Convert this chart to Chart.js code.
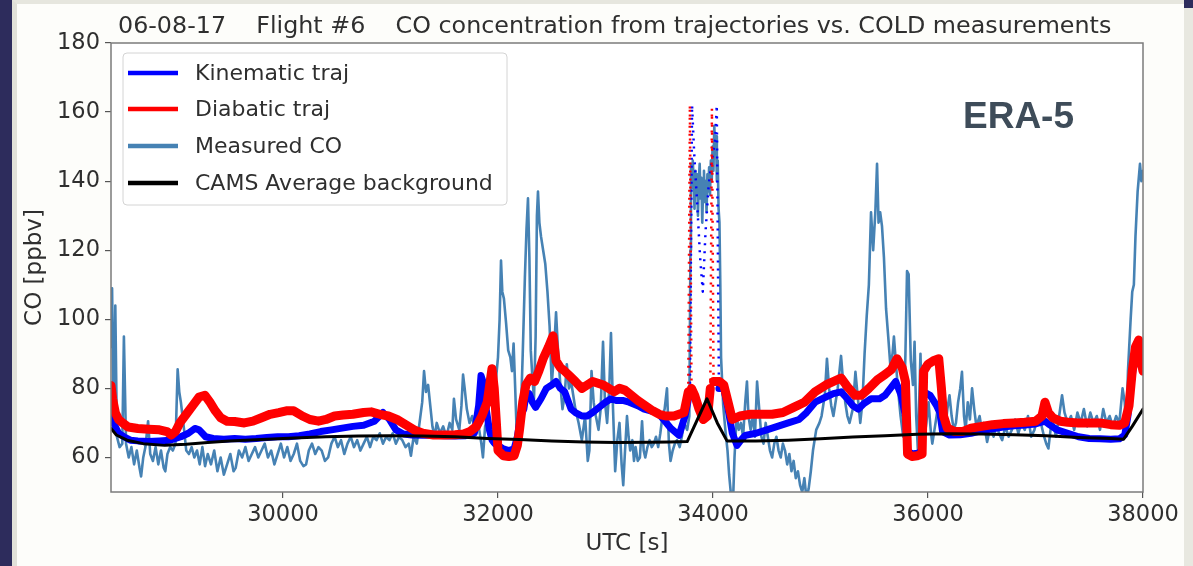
<!DOCTYPE html>
<html>
<head>
<meta charset="utf-8">
<title>CO concentration - Flight #6</title>
<script src="https://cdn.jsdelivr.net/npm/chart.js@4.4.0/dist/chart.umd.min.js"></script>
<style>
  html, body { margin: 0; padding: 0; }
  body { width: 1193px; height: 566px; background: #2d2c5c; position: relative; overflow: hidden; }
  .slide { position: absolute; left: 12px; top: 0; width: 1167px; height: 562px; background: #fdfdfa;
           border-left: 5px solid #e1e1d9; border-top: 4px solid #e6e6de; }
  .edge { position: absolute; left: 1184px; top: 8px; width: 9px; height: 558px; background: #e8e8e0; }
  #coChart { position: absolute; left: 0; top: 0; }
</style>
</head>
<body>
<div class="slide"></div>
<div class="edge"></div>
<canvas id="coChart" width="1193" height="566"></canvas>
<script>
// axis ticks and text
var xTicks = [30000, 32000, 34000, 36000, 38000];
var yTicks = [60, 80, 100, 120, 140, 160, 180];
var chartTitle = "06-08-17    Flight #6    CO concentration from trajectories vs. COLD measurements";
var modelName = "ERA-5";
var seriesNames = ["Kinematic traj", "Diabatic traj", "Measured CO", "CAMS Average background"];

// [UTC s, CO ppbv]
var kinematicCO = [
  [28400,70],[28420,74],[28440,69],[28470,67],[28520,66],[28580,65],[28650,64.8],[28750,64.6],[28850,64.8],[28950,65],
  [29050,66],[29120,67],[29180,68.4],[29220,68],[29280,66],[29350,65.5],[29450,65.3],[29550,65.5],[29650,65.3],[29750,65.5],
  [29850,65.8],[29950,66],[30050,66],[30150,66.3],[30250,66.8],[30350,67.5],[30450,68],[30550,68.5],[30650,69],[30750,69.3],
  [30850,70.5],[30930,73],[30990,71],[31050,68],[31120,66.8],[31200,66.5],[31300,66.4],[31400,66.4],[31500,66.3],[31600,66.2],
  [31700,66.3],[31780,67],[31820,75],[31842,83.7],[31860,82],[31890,74],[31920,68],[31945,65],[31970,64],[32000,63.5],
  [32050,62.5],[32100,62],[32150,62.5],[32180,66],[32210,72],[32240,74],[32260,78],[32290,78.5],[32320,76],[32350,74.5],
  [32400,77],[32450,80],[32500,81],[32540,82],[32580,80],[32620,79],[32680,74],[32720,73],[32780,72],[32830,72],
  [32880,73],[32940,74.5],[33000,76],[33050,77],[33100,76.5],[33160,76.5],[33220,76],[33300,75],[33360,74],[33420,73.5],
  [33485,73],[33540,71],[33609,68.4],[33684,66.4],[33740,72],[33785,79],[33805,162],[33825,148],[33850,135],[33880,118],
  [33905,108],[33930,125],[33960,139],[33990,146],[34020,152],[34035,162],[34055,80],[34100,80],[34140,74],[34180,67],
  [34223,63.5],[34260,65],[34300,66.4],[34400,67],[34500,68],[34600,69],[34700,70],[34800,71],[34870,73],[34950,76],
  [35050,77.5],[35120,78.5],[35191,79],[35250,77],[35300,75],[35350,74],[35400,75.5],[35470,77],[35550,77],[35600,78],
  [35650,80],[35700,82],[35750,78],[35790,72],[35810,62],[35850,61],[35900,61.2],[35945,62],[35960,79],[36020,78],
  [36080,75],[36110,73],[36135,67.5],[36200,66.5],[36300,66.6],[36400,67],[36500,67.8],[36600,68.3],[36700,68.8],[36800,69.2],
  [36900,69.4],[37000,69.7],[37090,70.5],[37130,69.5],[37200,68],[37300,67],[37400,66],[37500,65.5],[37600,65.4],[37700,65.3],
  [37780,65.4],[37830,66.5],[37860,72],[37885,80],[37910,86],[37940,88],[37970,90],[38000,89]
];

var diabaticCO = [
  [28400,80.8],[28415,77],[28440,73],[28470,71],[28510,70],[28560,68.8],[28650,68.4],[28750,68.2],[28850,68],[28920,67.5],
  [28960,66.5],[29000,67.5],[29040,70],[29100,72.5],[29160,75],[29220,77.5],[29274,78],[29320,76],[29370,73.5],[29420,71.5],
  [29480,70.5],[29550,70.4],[29640,70],[29720,70.5],[29800,71.5],[29880,72.5],[29960,73],[30030,73.5],[30100,73.5],[30180,72],
  [30250,71],[30330,70.5],[30400,71],[30480,72],[30560,72.3],[30650,72.5],[30750,73],[30820,73.2],[30900,72.5],[30980,72],
  [31060,71],[31140,69.5],[31220,68],[31300,67],[31400,66.5],[31500,66.5],[31600,66.6],[31680,66.8],[31740,67.5],[31800,69],
  [31850,72],[31900,76],[31944,85.7],[31965,80],[31985,70],[32000,62],[32050,60.5],[32100,60.3],[32150,60.5],[32180,63.5],
  [32200,68],[32230,76],[32260,81],[32300,83],[32340,82],[32380,85],[32420,88.6],[32470,92],[32512,95.2],[32540,88],
  [32580,86],[32620,85],[32670,83.5],[32720,82],[32780,80],[32830,81],[32880,82],[32930,81.5],[32980,81],[33030,80],
  [33080,79],[33130,80],[33180,79.5],[33240,78],[33300,76.5],[33370,75],[33440,73.5],[33500,72.5],[33560,72],[33637,72],
  [33730,73],[33770,79],[33785,162],[33800,80],[33830,78],[33870,74],[33910,71],[33950,72],[33975,80],[33990,161],
  [34005,82],[34060,82],[34100,81],[34140,76],[34180,71],[34250,72],[34350,72.5],[34450,72.5],[34550,72.5],[34650,73],
  [34750,74.5],[34850,76],[34950,79],[35050,81],[35120,82],[35191,83],[35250,80.5],[35320,78],[35380,78],[35450,80],
  [35530,82.5],[35600,84],[35660,85.5],[35712,88.6],[35760,86],[35790,82],[35810,61],[35850,60.3],[35900,60.5],[35945,61],
  [35960,85],[36000,87],[36050,88],[36100,88.6],[36125,80],[36145,72],[36180,68.5],[36250,67.5],[36320,67.5],[36400,68.5],
  [36500,69],[36600,69.5],[36700,69.8],[36800,70],[36900,70.2],[37000,70.5],[37060,72],[37088,76],[37120,73],[37160,71.5],
  [37230,70.5],[37300,70.2],[37400,70],[37500,70],[37600,70],[37700,69.5],[37780,69.3],[37830,70],[37870,75],[37900,85],
  [37930,92],[37960,94],[37980,88],[38000,85]
];

var measuredCO = [
  [28400,92],[28410,109],[28425,68],[28440,104],[28455,66],[28480,63],[28505,64],[28520,95],[28540,64],[28565,60],
  [28590,63],[28615,58],[28640,62],[28665,57],[28680,54.5],[28700,60],[28720,63],[28745,70.5],[28765,61],[28790,59],
  [28815,63],[28840,58],[28865,62],[28890,57],[28905,56],[28925,61],[28950,63],[28975,62],[29000,64],[29020,85.5],
  [29035,79],[29050,76],[29065,72],[29080,68],[29100,62],[29125,61],[29150,63],[29175,60],[29200,62],[29225,58],
  [29250,63],[29275,57.5],[29300,61],[29330,58],[29360,62],[29390,56],[29420,60],[29450,55],[29480,58],[29510,61],
  [29540,56],[29560,57],[29590,62],[29620,60],[29650,63],[29680,59],[29710,61],[29740,63],[29770,60],[29800,62],
  [29830,64],[29860,60],[29890,62],[29920,58],[29950,61],[29980,64],[30010,60],[30040,63],[30070,59],[30100,61],
  [30130,64],[30160,59],[30190,57.5],[30215,58],[30240,62],[30270,64],[30300,61],[30330,63],[30360,62],[30390,59],
  [30420,60],[30450,64],[30480,66],[30510,63],[30540,65],[30570,61],[30600,64],[30630,66],[30660,63],[30690,65],
  [30720,62],[30750,64],[30780,66],[30810,63],[30840,66],[30870,65],[30900,67],[30930,64],[30960,66],[30990,65],
  [31020,67],[31050,64],[31080,66],[31110,65],[31140,63],[31170,64],[31190,60.5],[31215,66],[31245,64],[31270,70],
  [31295,76],[31312,85],[31330,79],[31350,81],[31370,75],[31390,69],[31410,66],[31430,70],[31460,67],[31490,69],
  [31520,66],[31550,70],[31575,68],[31590,77],[31610,71],[31640,68],[31660,75],[31675,84],[31690,80],[31710,74],
  [31735,70],[31760,72],[31790,67],[31820,69],[31845,64],[31860,60],[31880,69],[31900,71],[31920,66],[31945,64],
  [31965,72],[31985,84],[32000,89],[32015,100],[32028,117],[32040,108],[32055,106],[32075,99],[32095,91],[32115,89],
  [32130,85],[32145,93],[32160,80],[32175,66],[32190,62],[32210,70],[32230,90],[32250,112],[32265,126],[32279,135],
  [32292,118],[32305,91],[32320,83],[32335,77],[32350,95],[32362,130],[32372,137],[32385,128],[32400,124],[32420,120],
  [32440,116],[32460,108],[32480,98],[32500,81],[32520,90],[32540,102],[32560,90],[32580,81],[32600,74],[32620,78],
  [32640,87],[32660,80],[32680,82],[32700,78],[32720,74],[32750,70],[32780,65],[32810,72],[32835,59],[32850,62],
  [32870,85],[32890,76],[32910,72],[32935,68],[32955,74],[32977,93.5],[32995,76],[33015,70],[33035,80],[33051,96],
  [33070,74],[33090,56],[33110,65],[33130,70],[33150,58],[33165,52],[33180,61],[33200,72],[33215,66],[33230,62],
  [33250,65],[33265,59],[33280,63],[33300,59],[33320,60],[33340,70.5],[33355,62],[33370,60],[33390,63],[33410,65],
  [33430,63],[33450,64],[33470,66],[33490,63],[33510,67],[33530,72],[33550,74],[33572,80],[33590,64],[33605,59],
  [33625,62],[33645,64],[33665,65],[33690,63],[33710,66],[33730,70],[33760,68],[33780,72],[33790,120],[33795,145],
  [33805,138],[33812,146],[33820,140],[33828,132],[33836,143],[33845,136],[33852,142],[33860,130],[33868,140],[33876,145],
  [33884,135],[33892,141],[33900,128],[33908,138],[33916,143],[33924,134],[33932,140],[33940,131],[33948,142],[33956,137],
  [33964,144],[33972,136],[33980,146],[33988,140],[33996,150],[34004,143],[34012,156],[34020,148],[34028,153],[34036,140],
  [34044,146],[34052,132],[34060,128],[34068,110],[34075,89],[34095,75],[34115,68],[34135,62],[34150,55],
  [34165,50],[34186,47],[34200,60],[34220,72],[34240,68],[34260,70],[34280,66],[34300,76],[34316,82],[34330,72],
  [34350,68],[34370,72],[34390,66],[34410,82],[34430,74],[34450,66],[34470,64],[34490,70],[34510,66],[34530,62],
  [34550,60],[34570,64],[34590,66],[34610,62],[34630,60],[34650,64],[34670,62],[34690,58],[34710,61],[34730,56],
  [34750,59],[34770,54],[34790,56],[34810,52],[34830,50],[34850,54],[34870,48],[34890,51],[34910,56],[34930,62],
  [34960,68],[34990,70],[35010,72],[35040,78],[35060,88.6],[35080,80],[35100,75],[35120,72],[35140,76],[35160,80],
  [35191,89.4],[35210,82],[35230,76],[35250,72],[35270,70],[35300,74],[35325,84.8],[35345,78],[35370,70],[35390,76],
  [35410,90],[35430,101],[35450,110],[35470,131],[35490,120],[35510,131],[35526,145],[35540,128],[35555,131],[35572,127],
  [35590,118],[35610,103],[35630,95],[35650,86.5],[35670,90],[35683,95],[35700,88],[35720,80],[35745,72],[35770,66],
  [35790,90],[35805,114],[35820,113],[35840,88],[35860,81],[35875,93.5],[35890,72],[35905,62.6],[35920,78],[35930,90],
  [35945,70],[35960,64],[35985,70],[36005,76],[36025,68],[36040,64],[36060,68],[36080,72],[36100,76],[36120,80],
  [36140,72],[36160,68],[36180,74],[36200,78],[36220,72],[36240,68],[36260,70],[36280,76],[36300,80],[36316,84.8],
  [36335,72],[36350,68],[36370,76],[36390,71],[36410,80],[36430,74],[36450,69],[36480,72],[36500,68],[36520,70],
  [36550,64.5],[36580,69],[36610,66],[36640,70],[36660,67],[36690,65],[36720,69],[36750,66],[36780,68],[36810,71],
  [36840,67],[36870,70],[36900,68],[36930,72],[36960,66],[36990,68],[37020,72],[37050,70],[37080,66],[37100,64],
  [37120,62.6],[37140,68],[37165,70],[37190,66],[37220,72],[37247,78],[37270,73],[37300,70],[37330,72],[37360,68],
  [37390,73],[37420,70],[37450,74],[37480,69],[37510,73],[37540,70],[37570,72],[37600,68],[37630,74],[37660,70],
  [37690,72],[37720,69],[37750,72],[37780,70],[37810,80],[37830,76],[37845,67],[37860,85],[37870,91],[37885,100],
  [37900,108],[37915,110],[37930,124],[37950,137],[37972,145],[37985,140],[38000,143]
];

var camsCO = [
  [28400,68.4],[28450,66.5],[28550,65],[28700,64],[28900,63.5],[29100,63.8],[29300,64.3],[29500,64.8],[29800,65.2],[30100,65.6],
  [30400,66],[30700,66.2],[31000,66.3],[31300,66.2],[31600,66],[31900,65.5],[32200,65.2],[32500,64.8],[32800,64.5],[33100,64.3],
  [33400,64.4],[33600,64.5],[33760,64.6],[33944,77],[34040,70],[34130,64.8],[34400,64.8],[34700,65],[35000,65.4],[35300,65.9],
  [35600,66.3],[35900,66.7],[36200,66.9],[36500,66.8],[36800,66.6],[37100,66.3],[37400,65.8],[37700,65.5],[37820,65.3],[37900,69],
  [38000,74]
];

function points(rows) {
  return rows.map(function (r) { return { x: r[0], y: r[1] }; });
}

// trajectory values far above the band are only a few scattered points
function sparse(ctx) {
  return ctx.p0.parsed.y > 100 || ctx.p1.parsed.y > 100;
}
var sparseSegment = {
  borderWidth: function (ctx) { return sparse(ctx) ? 2.5 : undefined; },
  borderDash: function (ctx) { return sparse(ctx) ? [2, 6] : undefined; },
  borderCapStyle: function (ctx) { return sparse(ctx) ? "butt" : undefined; }
};

var textColor = "#2f2f2f";

// axes box, legend and text inside the plot
var framePlugin = {
  id: "frame",
  beforeDraw: function (chart) {
    var a = chart.chartArea, ctx = chart.ctx;
    ctx.save();
    ctx.fillStyle = "#ffffff";
    ctx.fillRect(a.left, a.top, a.right - a.left, a.bottom - a.top);
    ctx.fillStyle = textColor;
    ctx.font = "23.8px 'DejaVu Sans'";
    ctx.textAlign = "left";
    ctx.textBaseline = "alphabetic";
    ctx.fillText(chartTitle, 118, 33);
    ctx.restore();
  },
  afterDatasetsDraw: function (chart) {
    var a = chart.chartArea, ctx = chart.ctx;
    ctx.save();
    ctx.strokeStyle = "#7b7b7b";
    ctx.lineWidth = 1.5;
    ctx.strokeRect(a.left, a.top, a.right - a.left, a.bottom - a.top);

    // ERA-5 label
    ctx.fillStyle = "#3e4c59";
    ctx.font = "bold 37px 'Liberation Sans'";
    ctx.textBaseline = "middle";
    ctx.fillText(modelName, 963, 118);

    // legend box
    var bx = 123, by = 53, bw = 384, bh = 152, r = 4;
    ctx.beginPath();
    ctx.moveTo(bx + r, by);
    ctx.arcTo(bx + bw, by, bx + bw, by + bh, r);
    ctx.arcTo(bx + bw, by + bh, bx, by + bh, r);
    ctx.arcTo(bx, by + bh, bx, by, r);
    ctx.arcTo(bx, by, bx + bw, by, r);
    ctx.closePath();
    ctx.fillStyle = "rgba(255,255,255,0.8)";
    ctx.fill();
    ctx.strokeStyle = "#d4d4d4";
    ctx.lineWidth = 1;
    ctx.stroke();

    var rows = [73, 109, 146, 183];
    ctx.font = "22px 'DejaVu Sans'";
    ctx.textBaseline = "middle";
    chart.data.datasets.forEach(function (ds, i) {
      ctx.strokeStyle = ds.borderColor;
      ctx.lineWidth = 4.5;
      ctx.lineCap = "butt";
      ctx.setLineDash([]);
      ctx.beginPath();
      ctx.moveTo(128, rows[i]);
      ctx.lineTo(178, rows[i]);
      ctx.stroke();
      ctx.fillStyle = textColor;
      ctx.fillText(ds.label, 195, rows[i] + 1);
    });
    ctx.restore();
  }
};

new Chart("coChart", {
  type: "line",
  data: {
    datasets: [
      { label: seriesNames[0], data: points(kinematicCO), borderColor: "#0000ff", borderWidth: 7, order: 2, segment: sparseSegment },
      { label: seriesNames[1], data: points(diabaticCO), borderColor: "#ff0000", borderWidth: 9, order: 1, segment: sparseSegment },
      { label: seriesNames[2], data: points(measuredCO), borderColor: "#4682b4", borderWidth: 2.6, order: 3 },
      { label: seriesNames[3], data: points(camsCO), borderColor: "#000000", borderWidth: 3, order: 0 }
    ]
  },
  options: {
    responsive: false,
    animation: false,
    devicePixelRatio: 1,
    layout: { padding: { left: 0, right: 50, top: 43, bottom: 0 } },
    elements: {
      point: { radius: 0 },
      line: { tension: 0, fill: false, borderCapStyle: "round", borderJoinStyle: "round" }
    },
    plugins: { legend: { display: false }, tooltip: { enabled: false } },
    scales: {
      x: {
        type: "linear",
        min: 28400,
        max: 38000,
        afterBuildTicks: function (scale) {
          scale.ticks = xTicks.map(function (v) { return { value: v }; });
        },
        afterFit: function (scale) { scale.height = 74; },
        border: { display: false },
        grid: { drawOnChartArea: false, tickLength: 6, tickColor: "#555", lineWidth: 1.2 },
        ticks: {
          padding: 4, maxRotation: 0, color: textColor,
          font: { family: "DejaVu Sans", size: 22.5 },
          callback: function (v) { return String(v); }
        },
        title: {
          display: true, text: "UTC [s]", color: textColor,
          font: { family: "DejaVu Sans", size: 23 },
          padding: { top: 0, bottom: 8 }
        }
      },
      y: {
        min: 50,
        max: 180,
        afterBuildTicks: function (scale) {
          scale.ticks = yTicks.map(function (v) { return { value: v }; });
        },
        afterFit: function (scale) { scale.width = 111; },
        border: { display: false },
        grid: { drawOnChartArea: false, tickLength: 6, tickColor: "#555", lineWidth: 1.2 },
        ticks: {
          padding: 5, color: textColor,
          font: { family: "DejaVu Sans", size: 22.5 },
          callback: function (v) { return String(v); }
        },
        title: {
          display: true, text: "CO [ppbv]", color: textColor,
          font: { family: "DejaVu Sans", size: 23 },
          padding: { top: 21, bottom: 0 }
        }
      }
    }
  },
  plugins: [framePlugin]
});
</script>
</body>
</html>
